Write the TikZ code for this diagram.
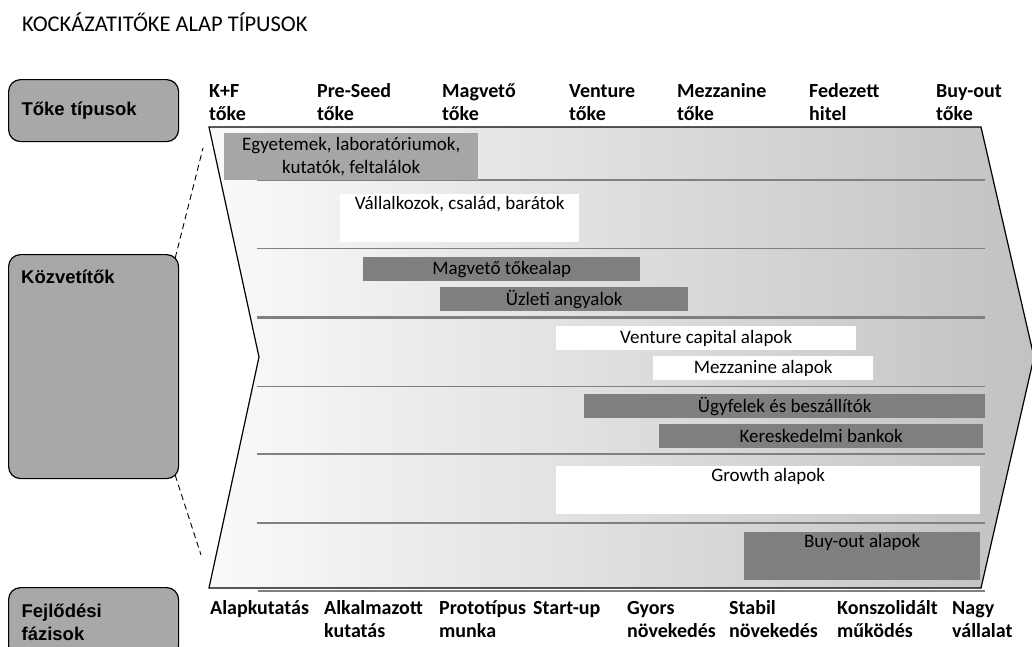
\documentclass[tikz,border=0pt]{standalone}
\usepackage{fontspec}
\setmainfont{Carlito}
\newfontfamily\arialfont{Liberation Sans}

\begin{document}
\begin{tikzpicture}[x=1pt, y=-1pt,
    header/.style={anchor=base west, align=left, inner sep=0pt, font=\fontsize{20}{23}\selectfont\bfseries},
    sidebox/.style={draw=black, line width=1.2pt, rounded corners=12pt, fill=sidegray, anchor=north west,
      minimum width=170, text width=144, inner xsep=13, inner ysep=0pt, align=left,
      font=\fontsize{18.5}{23}\selectfont\arialfont\bfseries},
    bar/.style={anchor=north west, inner sep=0pt, align=center, font=\fontsize{19}{23}\selectfont},
    sep/.style={draw=sepgray}]
    % Define colors
    \definecolor{sidegray}{RGB}{168, 168, 168}
    \definecolor{lightbar}{RGB}{166, 166, 166}
    \definecolor{darkbar}{RGB}{127, 127, 127}
    \definecolor{sepgray}{RGB}{128, 128, 128}

    \useasboundingbox (0,0) rectangle (1032,646);

    % Title
    \node[anchor=base west, inner sep=0pt, font=\fontsize{22.5}{26}\selectfont] (title) at (22,31) {KOCKÁZATITŐKE ALAP TÍPUSOK};

    % Chevron background
    \draw[line width=1.2pt, left color=black!2, right color=black!24]
      (209,127) -- (981,127) -- (1034,357) -- (981,588) -- (209,588) -- (259,357) -- cycle;

    % Separator lines
    \foreach \y/\w in {180/2, 248/1, 317/3, 386/1, 454/2, 523/2}
    \draw[sep, line width=\w] (257,\y) -- (985,\y);
    \draw[sep, line width=2.5] (258,591) -- (985,591);

    % Side boxes
    \node[sidebox, minimum height=62] (tokebox) at (8,79) {Tőke típusok};
    \node[sidebox, minimum height=224] (kozv) at (8,254) {};
    \node[anchor=base west, inner sep=0pt, font=\fontsize{18.5}{23}\selectfont\arialfont\bfseries] (kozvlabel) at (21,283) {Közvetítők};
    \node[sidebox, minimum height=70] (fazis) at (8,587) {Fejlődési\\fázisok};

    % Dashed links to the chevron
    \coordinate (edgetop) at (203,148);
    \coordinate (edgebot) at (201,555);
    \draw[dashed, dash pattern=on 6pt off 4pt, line width=0.9pt] ([shift={(-4,4)}]kozv.north east) -- (edgetop);
    \draw[dashed, dash pattern=on 6pt off 4pt, line width=0.9pt] ([shift={(-4,-4)}]kozv.south east) -- (edgebot);

    % Capital types (base = last line)
    \node[header] (kf) at (209,120) {K+F\\tőke};
    \node[header] (preseed) at (317,120) {Pre-Seed\\tőke};
    \node[header] (magveto) at (442,120) {Magvető\\tőke};
    \node[header] (venture) at (569,120) {Venture\\tőke};
    \node[header] (mezz) at (677,120) {Mezzanine\\tőke};
    \node[header] (fedezett) at (809,120) {Fedezett\\hitel};
    \node[header] (buyout) at (936,120) {Buy-out\\tőke};

    % Intermediaries
    \node[bar, fill=lightbar, minimum width=254, minimum height=47] (egyetem) at (224,133) {Egyetemek, laboratóriumok,\\kutatók, feltalálok};
    \node[bar, fill=white, minimum width=239, minimum height=48] (csalad) at (340,194) {Vállalkozok, család, barátok\\\strut};
    \node[bar, fill=darkbar, minimum width=277, minimum height=24] (seedfund) at (363,257) {Magvető tőkealap};
    \node[bar, fill=darkbar, minimum width=248, minimum height=24] (angyal) at (440,287) {Üzleti angyalok};
    \node[bar, fill=white, minimum width=300, minimum height=24] (vcfund) at (556,326) {Venture capital alapok};
    \node[bar, fill=white, minimum width=220, minimum height=24] (mezzfund) at (653,356) {Mezzanine alapok};
    \node[bar, fill=darkbar, minimum width=401, minimum height=24] (ugyfel) at (584,394) {Ügyfelek és beszállítók};
    \node[bar, fill=darkbar, minimum width=324, minimum height=24] (bank) at (659,424) {Kereskedelmi bankok};
    \node[bar, fill=white, minimum width=424, minimum height=48] (growth) at (556,466) {Growth alapok\\\strut};
    \node[bar, fill=darkbar, minimum width=236, minimum height=48] (buyoutfund) at (744,532) {Buy-out alapok\\\strut};

    % Development phases
    \node[header] (alap) at (210,614) {Alapkutatás};
    \node[header] (alkalm) at (324,637) {Alkalmazott\\kutatás};
    \node[header] (proto) at (439,637) {Prototípus\\munka};
    \node[header] (startup) at (533,614) {Start-up};
    \node[header] (gyors) at (627,637) {Gyors\\növekedés};
    \node[header] (stabil) at (729,637) {Stabil\\növekedés};
    \node[header] (konsz) at (837,637) {Konszolidált\\működés};
    \node[header] (nagy) at (952,637) {Nagy\\vállalat};

  \end{tikzpicture}
\end{document}
